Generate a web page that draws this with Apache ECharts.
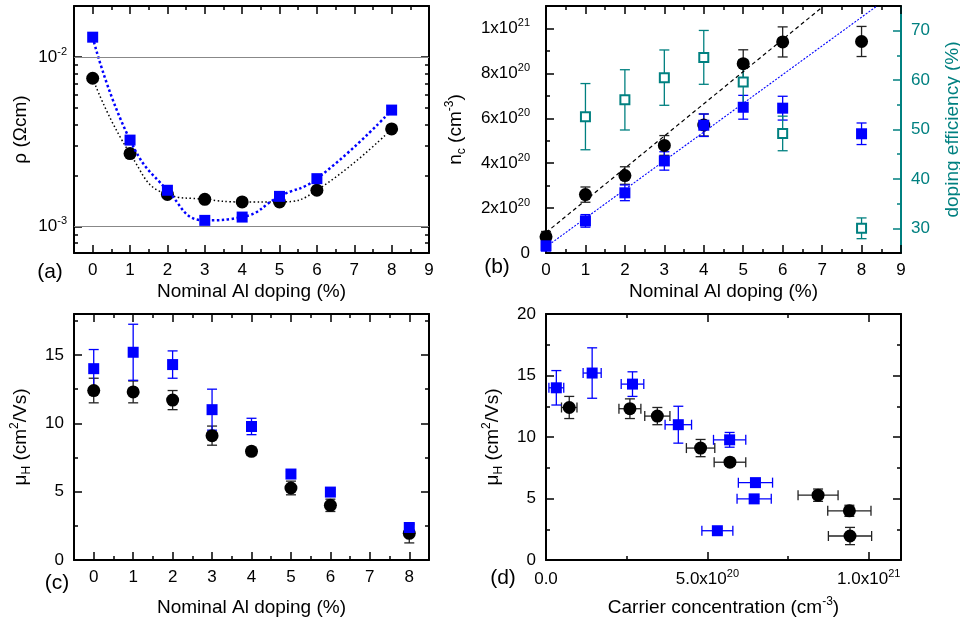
<!DOCTYPE html>
<html><head><meta charset="utf-8">
<script src="https://cdn.jsdelivr.net/npm/echarts@6/dist/echarts.min.js"></script>
<style>html,body{margin:0;padding:0;background:#fff}#c{width:960px;height:624px}</style>
</head><body><div id="c"></div>
<script>
// ---------------- data ----------------
const doping = [0, 1, 2, 3, 4, 5, 6, 8];
const rhoBlack = [7.5e-3, 2.70e-3, 1.55e-3, 1.45e-3, 1.40e-3, 1.40e-3, 1.64e-3, 3.77e-3];
const rhoBlue  = [1.31e-2, 3.24e-3, 1.64e-3, 1.09e-3, 1.14e-3, 1.51e-3, 1.92e-3, 4.87e-3];

const ncBlack    = [7.2e19, 2.60e20, 3.45e20, 4.79e20, 5.70e20, 8.43e20, 9.40e20, 9.42e20];
const ncBlackErr = [2.4e19, 3.4e19, 3.9e19, 4.4e19, 4.9e19, 6.2e19, 6.7e19, 6.7e19];
const ncBlue     = [3.2e19, 1.43e20, 2.68e20, 4.10e20, 5.69e20, 6.49e20, 6.45e20, 5.31e20];
const ncBlueErr  = [2.3e19, 2.8e19, 3.5e19, 4.1e19, 5.0e19, 5.3e19, 5.3e19, 4.8e19];

const effDoping     = [1, 2, 3, 4, 5, 6, 8];
const efficiency    = [52.6, 56.0, 60.5, 64.6, 59.6, 49.2, 30.0];
const efficiencyErr = [6.7, 6.1, 5.6, 5.45, 4.5, 3.5, 2.1];

const fitBlack = [[0, 9.1e19], [7.04, 1.1e21]];
const fitBlue  = [[0, 2.7e19], [8.39, 1.1e21]];

const muBlack    = [12.4, 12.3, 11.7, 9.1, 7.95, 5.27, 4.0, 1.95];
const muBlackErr = [0.9, 0.8, 0.7, 0.7, 0.3, 0.5, 0.45, 0.7];
const muBlue     = [14.0, 15.2, 14.3, 11.0, 9.77, 6.29, 4.97, 2.38];
const muBlueErr  = [1.4, 2.05, 1.0, 1.5, 0.6, 0.2, 0.2, 0.2];

// ---------------- ticks / labels ----------------
const dopTicksA = [0, 1, 2, 3, 4, 5, 6, 7, 8, 9];
const dopMinorA = [0.5, 1.5, 2.5, 3.5, 4.5, 5.5, 6.5, 7.5, 8.5];
const rhoTicks  = [1e-3, 1e-2];
const rhoLabels = ['10^-3', '10^-2'];
const rhoMinor  = [8e-4, 9e-4, 2e-3, 3e-3, 4e-3, 5e-3, 6e-3, 7e-3, 8e-3, 9e-3];
const nTicks    = [0, 2e20, 4e20, 6e20, 8e20, 1e21];
const nLabels   = ['0', '2x10^20', '4x10^20', '6x10^20', '8x10^20', '1x10^21'];
const nMinor    = [1e20, 3e20, 5e20, 7e20, 9e20];
const effTicks  = [30, 40, 50, 60, 70];
const effMinor  = [35, 45, 55, 65];
const dopTicksC = [0, 1, 2, 3, 4, 5, 6, 7, 8];
const dopMinorC = [0.5, 1.5, 2.5, 3.5, 4.5, 5.5, 6.5, 7.5];
const muTicksC  = [0, 5, 10, 15];
const muMinorC  = [2.5, 7.5, 12.5, 17.5];
const ncTicksD  = [0, 5e20, 1e21];
const ncLabelsD = ['0.0', '5.0x10^20', '1.0x10^21'];
const ncMinorD  = [2.5e20, 7.5e20];
const muTicksD  = [0, 5, 10, 15, 20];
const muMinorD  = [2.5, 7.5, 12.5, 17.5];

// ---------------- helpers ----------------
const FONT = '"Liberation Sans", Arial, Helvetica, sans-serif';
const TEAL = '#008080', BLUE = '#0000ff';
const log10 = Math.log10;

function supFmt(s) {
  const i = s.indexOf('^');
  return i < 0 ? s : s.slice(0, i) + '{sup|' + s.slice(i + 1) + '}';
}
function lookup(ticks, labels) {
  return function (v) {
    for (let i = 0; i < ticks.length; i++) {
      if (Math.abs(ticks[i] - v) <= Math.abs(ticks[i]) * 1e-9 + 1e-9) return supFmt(labels[i]);
    }
    return '';
  };
}
const RICH_LBL = { sup: { fontSize: 11, lineHeight: 11, verticalAlign: 'top', fontFamily: FONT } };
const RICH_NAME = {
  sup: { fontSize: 12, lineHeight: 12, verticalAlign: 'top', fontFamily: FONT },
  sub: { fontSize: 12, lineHeight: 12, verticalAlign: 'bottom', fontFamily: FONT }
};

const xAxes = [], yAxes = [];
function side(list, gi, pos, min, max, major, minor, o) {
  o = o || {};
  const color = o.color || '#000';
  const main = {
    type: 'value', gridIndex: gi, position: pos, min: min, max: max,
    axisLine: { show: true, onZero: false, lineStyle: { color: color, width: 2 } },
    axisTick: { show: true, inside: true, length: 8, customValues: major, lineStyle: { color: color, width: 1.5 } },
    axisLabel: o.labels ? {
      show: true, customValues: major, formatter: o.labels, color: o.color || '#000',
      fontSize: 17, fontFamily: FONT, margin: o.margin, lineHeight: o.lh || 17, rich: RICH_LBL
    } : { show: false },
    splitLine: { show: false },
    minorTick: { show: false },
    name: o.name || '', nameLocation: 'middle', nameGap: o.nameGap || 30, nameMoveOverlap: false,
    nameTextStyle: { fontSize: 19, fontFamily: FONT, color: o.color || '#000', lineHeight: o.nlh || 19, rich: RICH_NAME }
  };
  const idx = list.length;
  list.push(main);
  list.push({
    type: 'value', gridIndex: gi, position: pos, min: min, max: max,
    axisLine: { show: false, onZero: false },
    axisTick: { show: true, inside: true, length: 4, customValues: minor, lineStyle: { color: color, width: 1.5 } },
    axisLabel: { show: false }, splitLine: { show: false }
  });
  return idx;
}
function errSeries(xi, yi, data, color, z) {
  const cap = 5;
  return {
    type: 'custom', xAxisIndex: xi, yAxisIndex: yi, z: z || 2, silent: true,
    data: data, encode: { x: [0, 2, 3], y: [1, 4, 5] },
    renderItem: function (params, api) {
      const x = api.value(0), y = api.value(1), xl = api.value(2), xh = api.value(3), yl = api.value(4), yh = api.value(5);
      const kids = [];
      const st = { stroke: color, lineWidth: 1.3 };
      const L = (x1, y1, x2, y2) => kids.push({ type: 'line', shape: { x1, y1, x2, y2 }, style: st });
      if (yl !== yh) {
        const a = api.coord([x, yl]), b = api.coord([x, yh]);
        L(a[0], a[1], b[0], b[1]); L(a[0] - cap, a[1], a[0] + cap, a[1]); L(b[0] - cap, b[1], b[0] + cap, b[1]);
      }
      if (xl !== xh) {
        const a = api.coord([xl, y]), b = api.coord([xh, y]);
        L(a[0], a[1], b[0], b[1]); L(a[0], a[1] - cap, a[0], a[1] + cap); L(b[0], b[1] - cap, b[0], b[1] + cap);
      }
      return { type: 'group', children: kids };
    }
  };
}
const yErr = (xs, ys, es) => xs.map((x, i) => [x, ys[i], x, x, ys[i] - es[i], ys[i] + es[i]]);
const xyErr = (xs, xe, ys, ye) => xs.map((x, i) => [x, ys[i], x - xe[i], x + xe[i], ys[i] - ye[i], ys[i] + ye[i]]);
const numFmt = v => String(Math.round(v));

// ---------------- grids ----------------
const grids = [
  { left: 74, top: 6, width: 355, height: 247, outerBoundsMode: 'none', containLabel: false },
  { left: 546, top: 6, width: 355, height: 247, outerBoundsMode: 'none', containLabel: false },
  { left: 74, top: 314, width: 355, height: 246, outerBoundsMode: 'none', containLabel: false },
  { left: 546, top: 314, width: 355, height: 246, outerBoundsMode: 'none', containLabel: false }
];

// panel a
const xa = side(xAxes, 0, 'bottom', -0.5, 9, dopTicksA, dopMinorA, { labels: numFmt, margin: 9, name: 'Nominal Al doping (%)', nameGap: 29 });
side(xAxes, 0, 'top', -0.5, 9, dopTicksA, dopMinorA);
const ya = side(yAxes, 0, 'left', log10(7e-4), log10(2e-2), rhoTicks.map(log10), rhoMinor.map(log10),
  { labels: lookup(rhoTicks.map(log10), rhoLabels), margin: 7, lh: 22, name: 'ρ (Ωcm)', nameGap: 44 });
side(yAxes, 0, 'right', log10(7e-4), log10(2e-2), rhoTicks.map(log10), rhoMinor.map(log10));

// panel b
const xb = side(xAxes, 1, 'bottom', 0, 9, dopTicksA, dopMinorA, { labels: numFmt, margin: 9, name: 'Nominal Al doping (%)', nameGap: 29 });
side(xAxes, 1, 'top', 0, 9, dopTicksA, dopMinorA);
const yb = side(yAxes, 1, 'left', 0, 1.1e21, nTicks, nMinor,
  { labels: lookup(nTicks, nLabels), margin: 16, lh: 22, name: 'n{sub|c} (cm{sup|-3})', nameGap: 78, nlh: 24 });
const ybr = side(yAxes, 1, 'right', 25, 75, effTicks, effMinor,
  { labels: numFmt, margin: 10, color: TEAL, name: 'doping efficiency (%)', nameGap: 42 });

// panel c
const xc = side(xAxes, 2, 'bottom', -0.5, 8.5, dopTicksC, dopMinorC, { labels: numFmt, margin: 9, name: 'Nominal Al doping (%)', nameGap: 38 });
side(xAxes, 2, 'top', -0.5, 8.5, dopTicksC, dopMinorC);
const yc = side(yAxes, 2, 'left', 0, 18, muTicksC, muMinorC,
  { labels: numFmt, margin: 10, name: 'μ{sub|H} (cm{sup|2}/Vs)', nameGap: 41, nlh: 24 });
side(yAxes, 2, 'right', 0, 18, muTicksC, muMinorC);

// panel d
const xd = side(xAxes, 3, 'bottom', 0, 1.1e21, ncTicksD, ncMinorD,
  { labels: lookup(ncTicksD, ncLabelsD), margin: 8, lh: 22, name: 'Carrier concentration (cm{sup|-3})', nameGap: 36, nlh: 24 });
side(xAxes, 3, 'top', 0, 1.1e21, ncTicksD, ncMinorD);
const yd = side(yAxes, 3, 'left', 0, 20, muTicksD, muMinorD, { labels: numFmt, margin: 10, name: 'μ{sub|H} (cm{sup|2}/Vs)', nameGap: 41, nlh: 24 });
side(yAxes, 3, 'right', 0, 20, muTicksD, muMinorD);

// ---------------- series ----------------
const solid = c => ({ color: c, opacity: 1 });
const series = [
  // (a)
  {
    type: 'line', xAxisIndex: xa, yAxisIndex: ya, z: 3, smooth: 0.5,
    data: doping.map((x, i) => [x, log10(rhoBlack[i])]),
    symbol: 'circle', symbolSize: 13, itemStyle: solid('#000'),
    lineStyle: { color: '#000', width: 1.5, type: [1.5, 2.5] },
    markLine: {
      silent: true, symbol: 'none', label: { show: false }, animation: false,
      lineStyle: { color: '#888', width: 1, type: 'solid' },
      data: rhoTicks.map(v => ({ yAxis: log10(v) }))
    }
  },
  {
    type: 'line', xAxisIndex: xa, yAxisIndex: ya, z: 4, smooth: 0.5,
    data: doping.map((x, i) => [x, log10(rhoBlue[i])]),
    symbol: 'rect', symbolSize: 11, itemStyle: solid(BLUE),
    lineStyle: { color: BLUE, width: 2.5, type: [2.5, 2.5] }
  },
  // (b)
  { type: 'line', xAxisIndex: xb, yAxisIndex: yb, z: 2, data: fitBlack, symbol: 'none', lineStyle: { color: '#000', width: 1.2, type: [4, 3] } },
  { type: 'line', xAxisIndex: xb, yAxisIndex: yb, z: 2, data: fitBlue, symbol: 'none', lineStyle: { color: BLUE, width: 1.1, type: [2, 1.5] } },
  errSeries(xb, yb, yErr(doping, ncBlack, ncBlackErr), '#222', 2),
  errSeries(xb, yb, yErr(doping, ncBlue, ncBlueErr), BLUE, 2),
  errSeries(xb, ybr, yErr(effDoping, efficiency, efficiencyErr), TEAL, 2),
  { type: 'scatter', xAxisIndex: xb, yAxisIndex: yb, z: 3, symbol: 'circle', symbolSize: 13, itemStyle: solid('#000'),
    data: doping.map((x, i) => [x, ncBlack[i]]) },
  { type: 'scatter', xAxisIndex: xb, yAxisIndex: yb, z: 4, symbol: 'rect', symbolSize: 11, itemStyle: solid(BLUE),
    data: doping.map((x, i) => [x, ncBlue[i]]) },
  { type: 'scatter', xAxisIndex: xb, yAxisIndex: ybr, z: 5, symbol: 'rect', symbolSize: 9,
    itemStyle: { color: '#fff', borderColor: TEAL, borderWidth: 2, opacity: 1 },
    data: effDoping.map((x, i) => [x, efficiency[i]]) },
  // (c)
  errSeries(xc, yc, yErr(doping, muBlack, muBlackErr), '#222', 2),
  errSeries(xc, yc, yErr(doping, muBlue, muBlueErr), BLUE, 2),
  { type: 'scatter', xAxisIndex: xc, yAxisIndex: yc, z: 3, symbol: 'circle', symbolSize: 13, itemStyle: solid('#000'),
    data: doping.map((x, i) => [x, muBlack[i]]) },
  { type: 'scatter', xAxisIndex: xc, yAxisIndex: yc, z: 4, symbol: 'rect', symbolSize: 11, itemStyle: solid(BLUE),
    data: doping.map((x, i) => [x, muBlue[i]]) },
  // (d)
  errSeries(xd, yd, xyErr(ncBlack, ncBlackErr, muBlack, muBlackErr), '#222', 2),
  errSeries(xd, yd, xyErr(ncBlue, ncBlueErr, muBlue, muBlueErr), BLUE, 2),
  { type: 'scatter', xAxisIndex: xd, yAxisIndex: yd, z: 3, symbol: 'circle', symbolSize: 13, itemStyle: solid('#000'),
    data: ncBlack.map((n, i) => [n, muBlack[i]]) },
  { type: 'scatter', xAxisIndex: xd, yAxisIndex: yd, z: 4, symbol: 'rect', symbolSize: 11, itemStyle: solid(BLUE),
    data: ncBlue.map((n, i) => [n, muBlue[i]]) }
];

const panelLabel = (t, x, y) => ({ type: 'text', x: x, y: y, z: 10,
  style: { text: t, fontSize: 21, fontFamily: FONT, fill: '#000', align: 'center', verticalAlign: 'middle' } });

const chart = echarts.init(document.getElementById('c'), null, { renderer: 'canvas' });
chart.setOption({
  animation: false,
  backgroundColor: '#fff',
  textStyle: { fontFamily: FONT },
  grid: grids,
  xAxis: xAxes,
  yAxis: yAxes,
  series: series,
  graphic: [panelLabel('(a)', 50, 272), panelLabel('(b)', 497, 267), panelLabel('(c)', 57, 583), panelLabel('(d)', 503, 578)]
});
</script>
</body></html>
